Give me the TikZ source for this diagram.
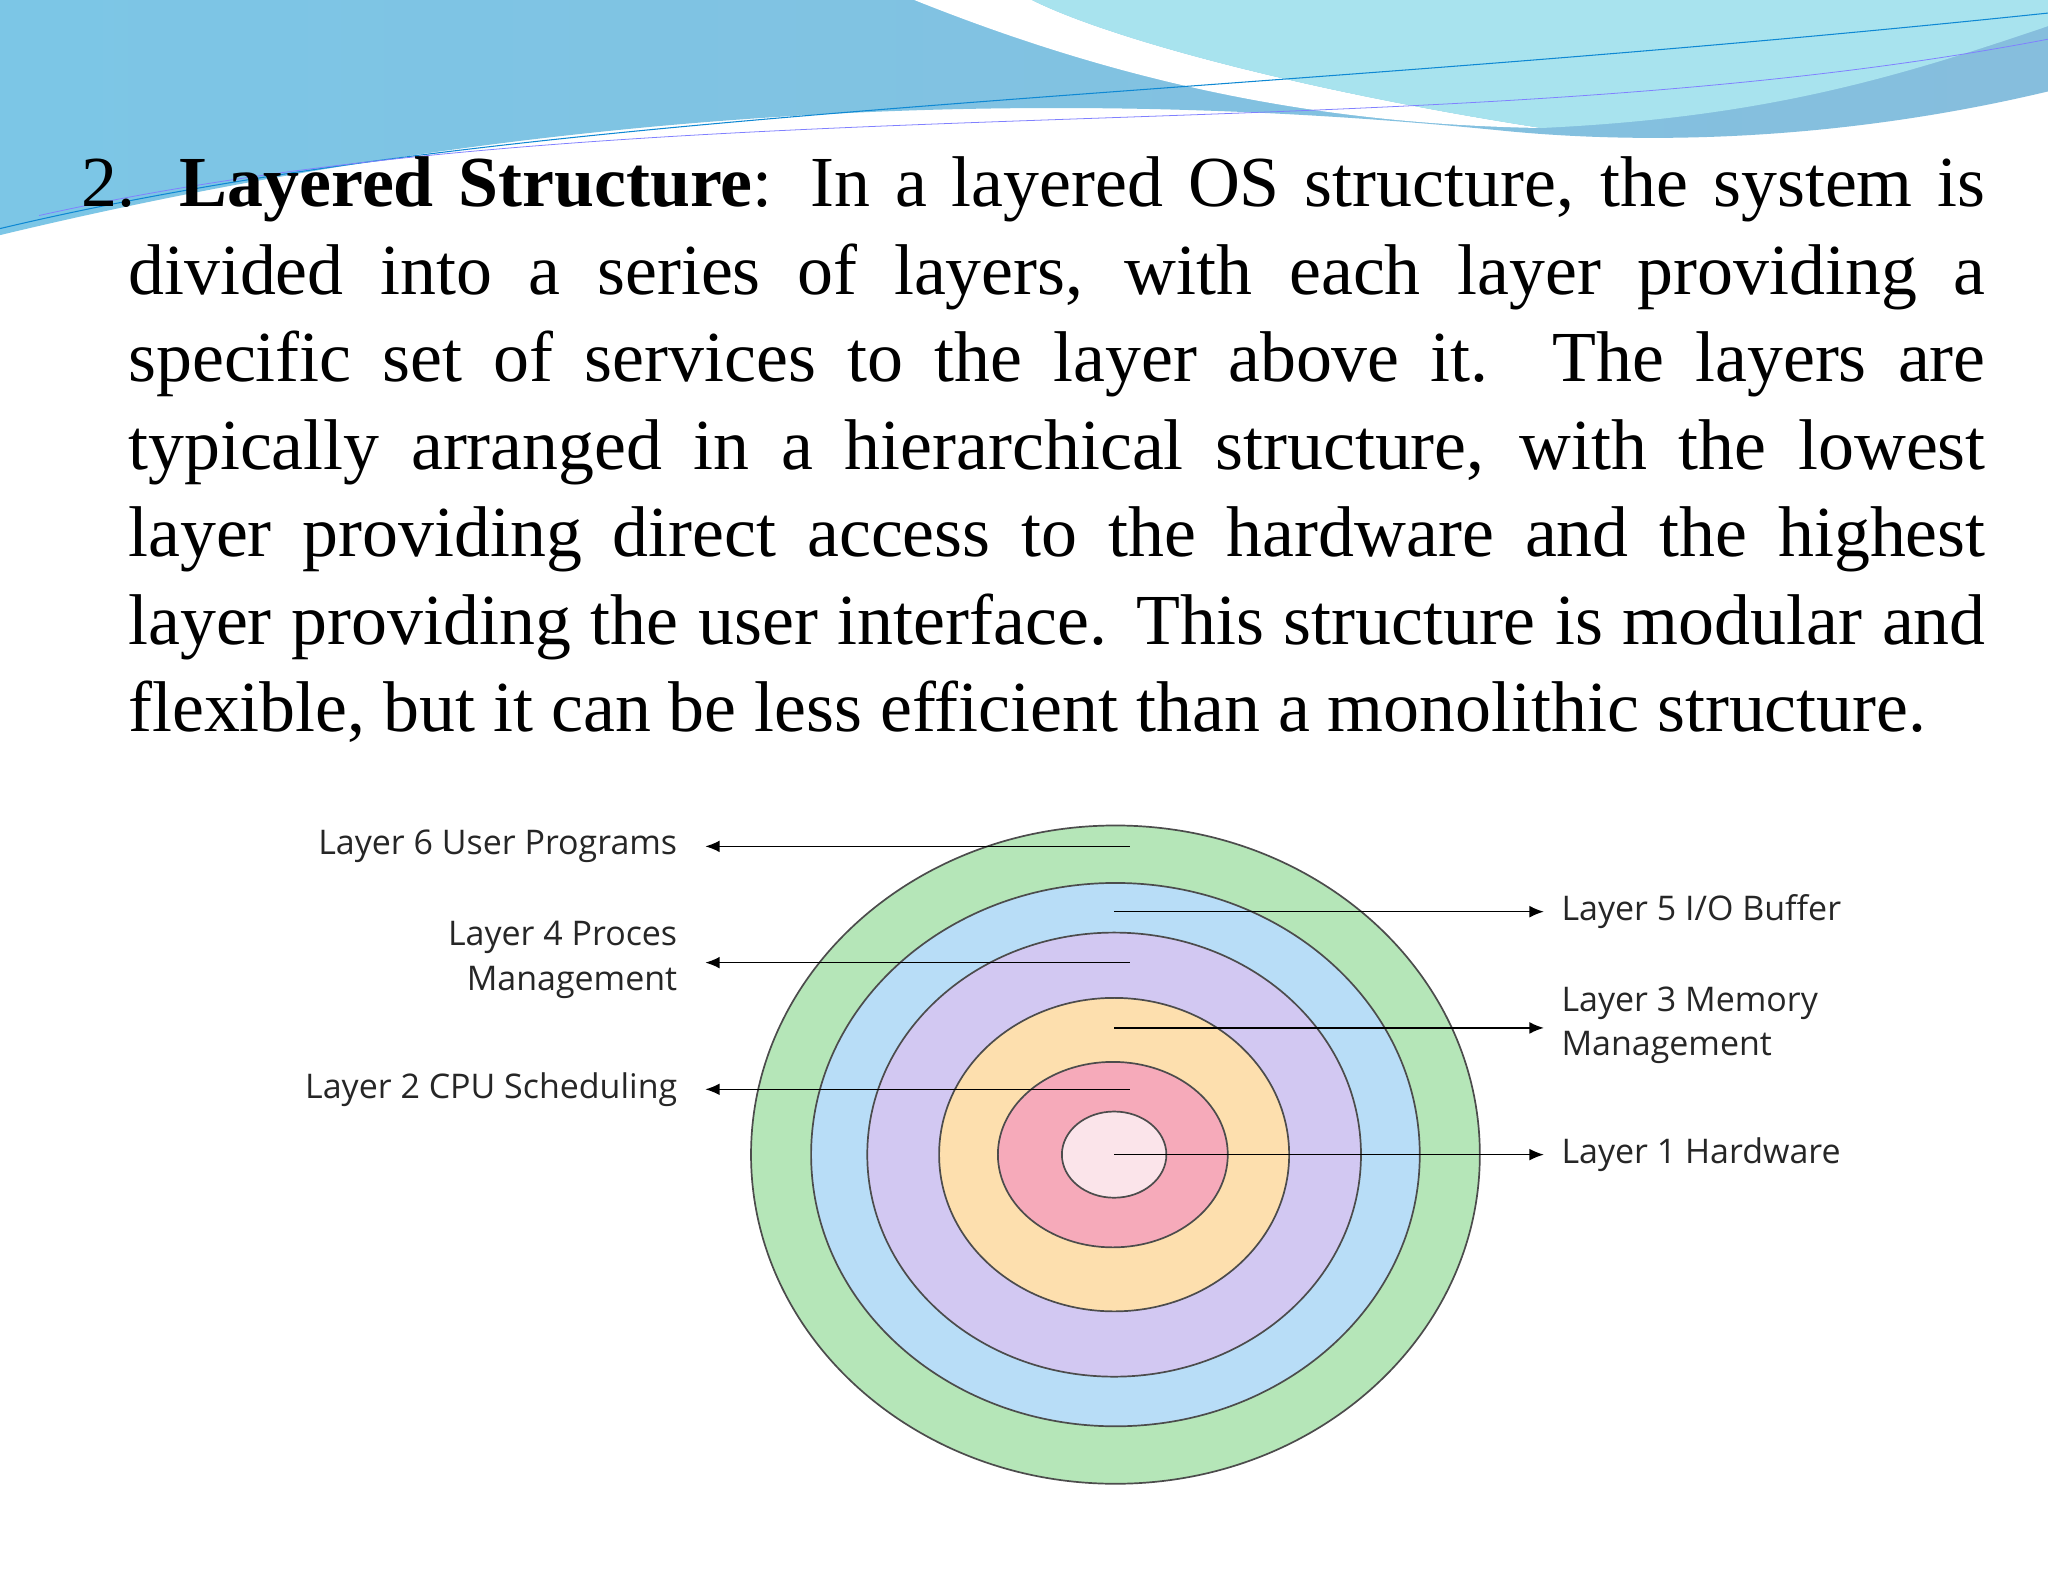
\documentclass[tikz,border=0pt]{standalone}
\usepackage{fontspec}
\usetikzlibrary{arrows.meta}
\setmainfont{Liberation Serif}
\newfontfamily\lblfont{Open Sans}
\definecolor{gr}{HTML}{B5E6B8}
\definecolor{bl}{HTML}{B8DDF7}
\definecolor{pu}{HTML}{D2C8F2}
\definecolor{orr}{HTML}{FDDFAE}
\definecolor{rd}{HTML}{F6AABA}
\definecolor{inn}{HTML}{FBE4EA}
\definecolor{hdA}{HTML}{7CC6E6}
\definecolor{hdB}{HTML}{86BEDD}
\definecolor{hdC}{HTML}{A8E3EE}
\begin{document}
\begin{tikzpicture}[x=1pt,y=-1pt,
  ring/.style={draw=black!70,line width=1.3pt},
  arr/.style={line width=1.1pt,-{Latex[length=11pt,width=9pt]}},
  lbl/.style={font=\lblfont\fontsize{26}{34}\selectfont,text=black!85}]
\useasboundingbox (0,0) rectangle (1568,1211);
\fill[white] (0,0) rectangle (1568,1211);
% header waves
\shade[left color=hdA, right color=hdB]
  (0,0) -- (1568,0) -- (1568,70) .. controls (1400,110) and (1250,110) .. (1150,100)
  .. controls (900,75) and (500,60) .. (0,180) -- cycle;
\fill[white] (700,0) .. controls (850,60) and (1000,95) .. (1180,98)
  .. controls (1000,70) and (850,30) .. (790,0) -- cycle;
\fill[hdC] (790,0) .. controls (850,30) and (1000,70) .. (1180,98)
  .. controls (1350,90) and (1450,60) .. (1568,20) -- (1568,0) -- cycle;
\draw[cyan!70!blue,line width=0.8pt] (0,175) .. controls (400,80) and (900,80) .. (1568,10);
\draw[blue!50,line width=0.6pt] (30,165) .. controls (500,60) and (1100,120) .. (1568,30);
% text
\node[anchor=north west,inner sep=0pt,text width=1458pt,align=justify] (txt) at (62,120)
 {\fontsize{55}{67}\selectfont\hyphenpenalty=10000\hangindent=36pt\hangafter=1\noindent
 2. \textbf{Layered Structure}: In a layered OS structure, the system is\linebreak
 divided into a series of layers, with each layer providing a\linebreak
 specific set of services to the layer above it. The layers are\linebreak
 typically arranged in a hierarchical structure, with the lowest\linebreak
 layer providing direct access to the hardware and the highest\linebreak
 layer providing the user interface. This structure is modular and\linebreak
 flexible, but it can be less efficient than a monolithic structure.\par};
% rings
\filldraw[ring,fill=gr] (854,884) ellipse [x radius=279,y radius=252];
\filldraw[ring,fill=bl] (854,884) ellipse [x radius=233,y radius=208];
\filldraw[ring,fill=pu] (853,884) ellipse [x radius=189,y radius=170];
\filldraw[ring,fill=orr] (853,884) ellipse [x radius=134,y radius=120];
\filldraw[ring,fill=rd] (852,884) ellipse [x radius=88,y radius=71];
\filldraw[ring,fill=inn] (853,884) ellipse [x radius=40,y radius=33];
% labels
\node[lbl,anchor=east,align=right] (l6) at (522,648) {Layer 6 User Programs};
\node[lbl,anchor=east,align=right] (l4) at (522,735) {Layer 4 Proces\\Management};
\node[lbl,anchor=east,align=right] (l2) at (522,834) {Layer 2 CPU Scheduling};
\node[lbl,anchor=west,align=left] (l5) at (1192,698) {Layer 5 I/O Buffer};
\node[lbl,anchor=west,align=left] (l3) at (1192,785) {Layer 3 Memory\\Management};
\node[lbl,anchor=west,align=left] (l1) at (1192,884) {Layer 1 Hardware};
\coordinate (s6) at (865,648); \coordinate (s4) at (865,737); \coordinate (s2) at (865,834);
\coordinate (s5) at (853,698); \coordinate (s3) at (853,787); \coordinate (s1) at (853,884);
\draw[arr] (s6) -- (540,648);
\draw[arr] (s4) -- (540,737);
\draw[arr] (s2) -- (540,834);
\draw[arr] (s5) -- (1182,698);
\draw[arr] (s3) -- (1182,787);
\draw[arr] (s1) -- (1182,884);
\end{tikzpicture}
\end{document}
